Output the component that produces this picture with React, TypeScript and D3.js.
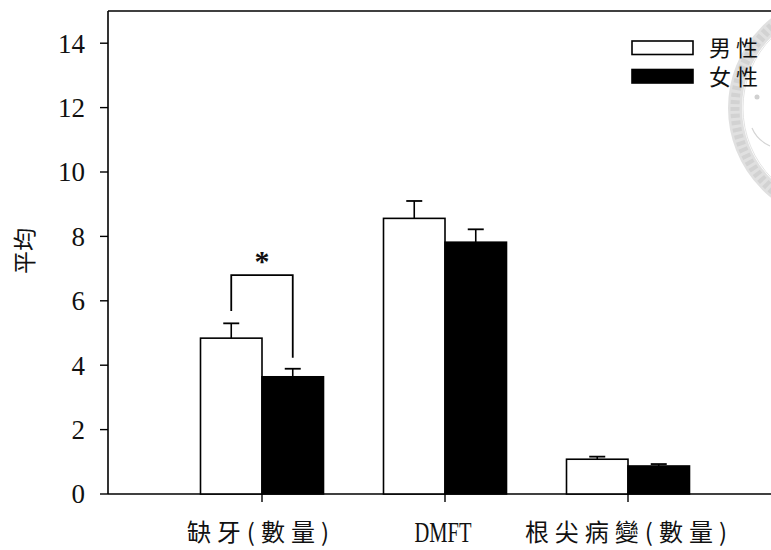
import React from "react";
import * as d3 from "d3";

// Mean counts by sex for each dental measure
const categories = ["缺牙(數量)", "DMFT", "根尖病變(數量)"];
const seriesNames = ["男性", "女性"];
const maleMeans = [4.84, 8.56, 1.08];
const maleErrors = [0.46, 0.54, 0.08];
const femaleMeans = [3.64, 7.82, 0.87];
const femaleErrors = [0.25, 0.4, 0.06];
const yTicks = [0, 2, 4, 6, 8, 10, 12, 14];
// significance bracket over the first category: leg bottom values and bracket height
const bracketLegs = [5.68, 4.23];
const bracketTop = 6.8;

const W = 771;
const H = 550;
const CJK = "'Noto Sans CJK TC', 'Noto Sans CJK SC', sans-serif";
const SERIF = "'Liberation Serif', 'DejaVu Serif', serif";

export default function App() {
  const axisX = 108;
  const baseY = 494;
  const y = d3.scaleLinear().domain([0, 15]).range([baseY, 11]);
  const x = d3.scaleLinear().domain([0, 1]).range([262, 445]);
  const barW = 61.5;

  const series = [
    { name: seriesNames[0], means: maleMeans, errs: maleErrors, fill: "#ffffff" },
    { name: seriesNames[1], means: femaleMeans, errs: femaleErrors, fill: "#000000" },
  ];

  const bx = (i: number, s: number) => x(i) + (s === 0 ? -barW : 0);
  const bcx = (i: number, s: number) => bx(i, s) + barW / 2;

  return (
    <svg width={W} height={H} style={{ display: "block", position: "absolute", left: 0, top: 0, background: "#fff" }}>
      {/* seal watermark */}
      <g>
        <circle cx={843} cy={108} r={108} fill="none" stroke="#e0e0e0" strokeWidth={14} />
        <circle cx={843} cy={108} r={108} fill="none" stroke="#d2d2d2" strokeWidth={9} strokeDasharray="4 3" />
        <circle cx={843} cy={108} r={100} fill="none" stroke="#e4e4e4" strokeWidth={1} />
        <circle cx={757} cy={97} r={2.5} fill="#d0d0d0" />
        <path d="M 752 128 Q 757 140 770 146" fill="none" stroke="#d4d4d4" strokeWidth={1.2} />
      </g>

      {/* frame */}
      <line x1={axisX} x2={axisX} y1={y(15)} y2={baseY} stroke="#000" strokeWidth={1.6} />
      <line x1={axisX} x2={W + 10} y1={baseY} y2={baseY} stroke="#000" strokeWidth={1.6} />
      <line x1={axisX} x2={W + 10} y1={y(15)} y2={y(15)} stroke="#000" strokeWidth={1.6} />

      {/* y ticks */}
      {yTicks.map((t) => (
        <g key={t}>
          <line x1={axisX - 8} x2={axisX} y1={y(t)} y2={y(t)} stroke="#000" strokeWidth={1.4} />
          <text x={85} y={y(t)} dy="0.35em" textAnchor="end" fontFamily={SERIF} fontSize={27} fill="#111">
            {t}
          </text>
        </g>
      ))}

      <text
        transform={`translate(25, 251) rotate(-90)`}
        textAnchor="middle"
        dy="0.36em"
        fontFamily={CJK}
        fontSize={23}
        fill="#111"
      >
        平均
      </text>

      {/* bars */}
      {series.map((s, si) =>
        s.means.map((m, i) => (
          <g key={`${si}-${i}`}>
            <line x1={bcx(i, si)} x2={bcx(i, si)} y1={y(m)} y2={y(m + s.errs[i])} stroke="#000" strokeWidth={1.6} />
            <line x1={bcx(i, si) - 8} x2={bcx(i, si) + 8} y1={y(m + s.errs[i])} y2={y(m + s.errs[i])} stroke="#000" strokeWidth={1.8} />
            <rect x={bx(i, si)} y={y(m)} width={barW} height={baseY - y(m)} fill={s.fill} stroke="#000" strokeWidth={1.6} />
          </g>
        ))
      )}

      {/* x ticks and labels */}
      {categories.map((c, i) => (
        <g key={c}>
          <line x1={x(i)} x2={x(i)} y1={baseY} y2={baseY + 8} stroke="#000" strokeWidth={1.4} />
          {c === "DMFT" ? (
            <text x={x(i) - 2} y={532} dy="0.35em" textAnchor="middle" fontFamily={SERIF} fontSize={29} textLength={57} lengthAdjust="spacingAndGlyphs" fill="#111">
              {c}
            </text>
          ) : (
            <text x={x(i) + (i === 0 ? -1 : 1)} y={532} dy="0.36em" textAnchor="middle" fontFamily={CJK} fontSize={24} letterSpacing={6} fill="#111">
              {c}
            </text>
          )}
        </g>
      ))}

      {/* significance bracket */}
      <path
        d={`M ${bcx(0, 0)} ${y(bracketLegs[0])} V ${y(bracketTop)} H ${bcx(0, 1)} V ${y(bracketLegs[1])}`}
        fill="none"
        stroke="#000"
        strokeWidth={1.8}
      />
      <text x={(bcx(0, 0) + bcx(0, 1)) / 2} y={y(bracketTop) - 4} textAnchor="middle" fontFamily={SERIF} fontSize={30} fontWeight="bold" fill="#111">
        *
      </text>

      {/* legend */}
      {series.map((s, si) => (
        <g key={s.name}>
          <rect x={632} y={41 + si * 28.5} width={61} height={13.5} fill={s.fill} stroke="#000" strokeWidth={1.6} />
          <text x={709} y={48 + si * 29} dy="0.36em" fontFamily={CJK} fontSize={22} letterSpacing={5} fill="#111">
            {s.name}
          </text>
        </g>
      ))}
    </svg>
  );
}
